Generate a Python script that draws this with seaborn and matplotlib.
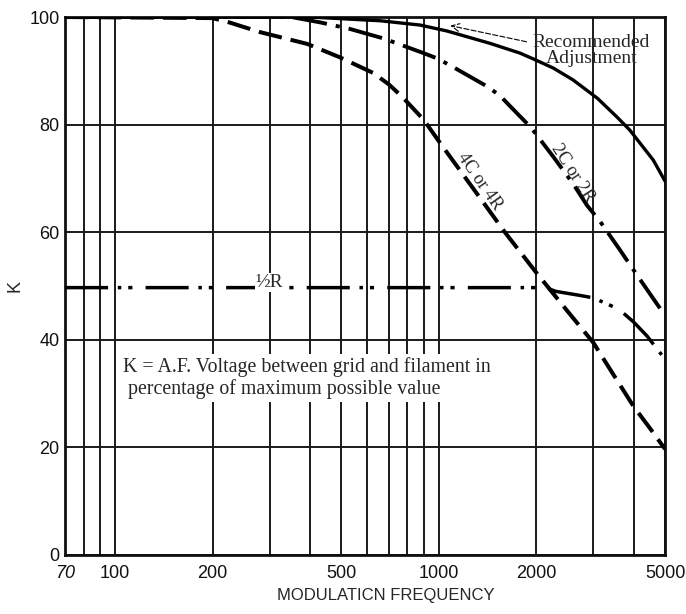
import matplotlib
matplotlib.use("Agg")
import matplotlib.pyplot as plt
import seaborn as sns

# values: modulation frequency (c/s) and K (%)
freq_rec = [70, 400, 660, 876, 1060, 1440, 1780, 1960, 2260, 2600, 3090, 3540, 3890, 4600, 5000]
k_rec = [100, 100, 99.3, 98.5, 97.4, 95.1, 93.3, 92.2, 90.5, 88.3, 84.9, 81.5, 79, 73.4, 69.5]

freq_2c = [70, 350, 430, 530, 676, 896, 990, 1107, 1420, 1550, 1650, 1930, 2260, 2600, 2870, 3150, 3600, 4100, 5000]
k_2c = [100, 100, 99, 97.8, 96, 93.3, 92.3, 90.7, 87, 85.3, 83.6, 79.4, 74, 69, 65, 62, 57, 52, 44.5]

freq_4c = [70, 200, 225, 280, 392, 495, 627, 700, 770, 898, 1020, 1340, 1600, 2000, 2500, 3000, 3500, 4000, 4500, 5000]
k_4c = [100, 99.8, 99, 97.2, 95, 92.5, 89.6, 87.5, 85.2, 80.9, 76.2, 66.4, 60, 52.5, 45.3, 39.5, 33.1, 27.6, 23.5, 19.7]

freq_half = [70, 1000, 2000, 2160, 2300, 2700, 3000, 3600, 4000, 4400, 5000]
k_half = [49.7, 49.7, 49.7, 49.6, 49, 48.3, 47.8, 45.7, 43.3, 40.7, 36.4]

x_ticks = [70, 100, 200, 500, 1000, 2000, 5000]
x_tick_labels = ["70", "100", "200", "500", "1000", "2000", "5000"]
x_grid = [80, 90, 300, 400, 600, 700, 800, 900, 3000, 4000]
y_ticks = [0, 20, 40, 60, 80, 100]

sns.set_style("white")
plt.rcParams["font.family"] = ["Liberation Sans", "DejaVu Sans"]
plt.rcParams["lines.scale_dashes"] = False
serif = ["Liberation Serif", "DejaVu Serif"]

fig = plt.figure(figsize=(6.86, 6.14), dpi=100)
ax = fig.add_axes([0.0948, 0.0961, 0.8746, 0.8762])
ax.set_xscale("log")

# curves
sns.lineplot(x=freq_rec, y=k_rec, ax=ax, color="black", lw=2.4, zorder=4)
sns.lineplot(x=freq_2c, y=k_2c, ax=ax, color="black", lw=2.8, zorder=4,
             linestyle=(0, (25, 6.5, 3, 6.5)))
sns.lineplot(x=freq_4c, y=k_4c, ax=ax, color="black", lw=2.9, zorder=4,
             linestyle=(0, (17, 6.5)))
sns.lineplot(x=freq_half, y=k_half, ax=ax, color="black", lw=2.5, zorder=4,
             linestyle=(0, (31, 7, 2.5, 5, 3, 9.5)))

ax.set_xlim(70, 5000)
ax.set_ylim(0, 100)
ax.set_xticks(x_ticks)
ax.set_xticklabels(x_tick_labels)
ax.set_xticks(x_grid, minor=True)
ax.xaxis.set_minor_formatter(plt.NullFormatter())
ax.set_yticks(y_ticks)
ax.xaxis.get_ticklabels()[0].set_style("italic")

ax.grid(True, which="both", axis="x", color="#1a1a1a", lw=1.4, zorder=1)
ax.grid(True, which="major", axis="y", color="#1a1a1a", lw=1.4, zorder=1)
ax.set_axisbelow(True)
ax.tick_params(axis="both", which="both", length=0, labelsize=13, colors="#111111")
ax.tick_params(axis="x", pad=7)
ax.tick_params(axis="y", pad=4)
for sp in ax.spines.values():
    sp.set_color("#111111")
    sp.set_linewidth(2)

ax.set_ylabel("K", fontsize=13, rotation=90)
ax.yaxis.set_label_coords(-0.07, 0.5)
ax.set_xlabel("MODULATICN FREQUENCY", fontsize=12)
ax.xaxis.set_label_coords(0.535, -0.062)

# labels on the curves
ax.text(1340, 69.5, "4C or 4R", family=serif, fontsize=13, rotation=-55,
        ha="center", va="center", zorder=5)
ax.text(2600, 71, "2C or 2R", family=serif, fontsize=13, rotation=-57,
        ha="center", va="center", zorder=5)
ax.text(300, 50.7, "½R", family=serif, fontsize=14, ha="center", va="center", zorder=5,
        bbox=dict(boxstyle="square,pad=0.05", fc="white", ec="none"))

ax.annotate("Recommended\nAdjustment", xy=(1085, 98.4), xytext=(0.877, 0.938),
            textcoords="axes fraction", family=serif, fontsize=14, ha="center",
            va="center", linespacing=0.95, zorder=5,
            arrowprops=dict(arrowstyle="->", linestyle="--", lw=0.8, color="black",
                            relpos=(0.0, 0.72), shrinkA=2, shrinkB=0))

ax.text(0.097, 0.368, "K = A.F. Voltage between grid and filament in\n percentage of maximum possible value",
        transform=ax.transAxes, family=serif, fontsize=14.3, ha="left", va="top",
        linespacing=1.15, zorder=5,
        bbox=dict(boxstyle="square,pad=0.15", fc="white", ec="none"))

fig.savefig("out.png", dpi=100, facecolor="white")
